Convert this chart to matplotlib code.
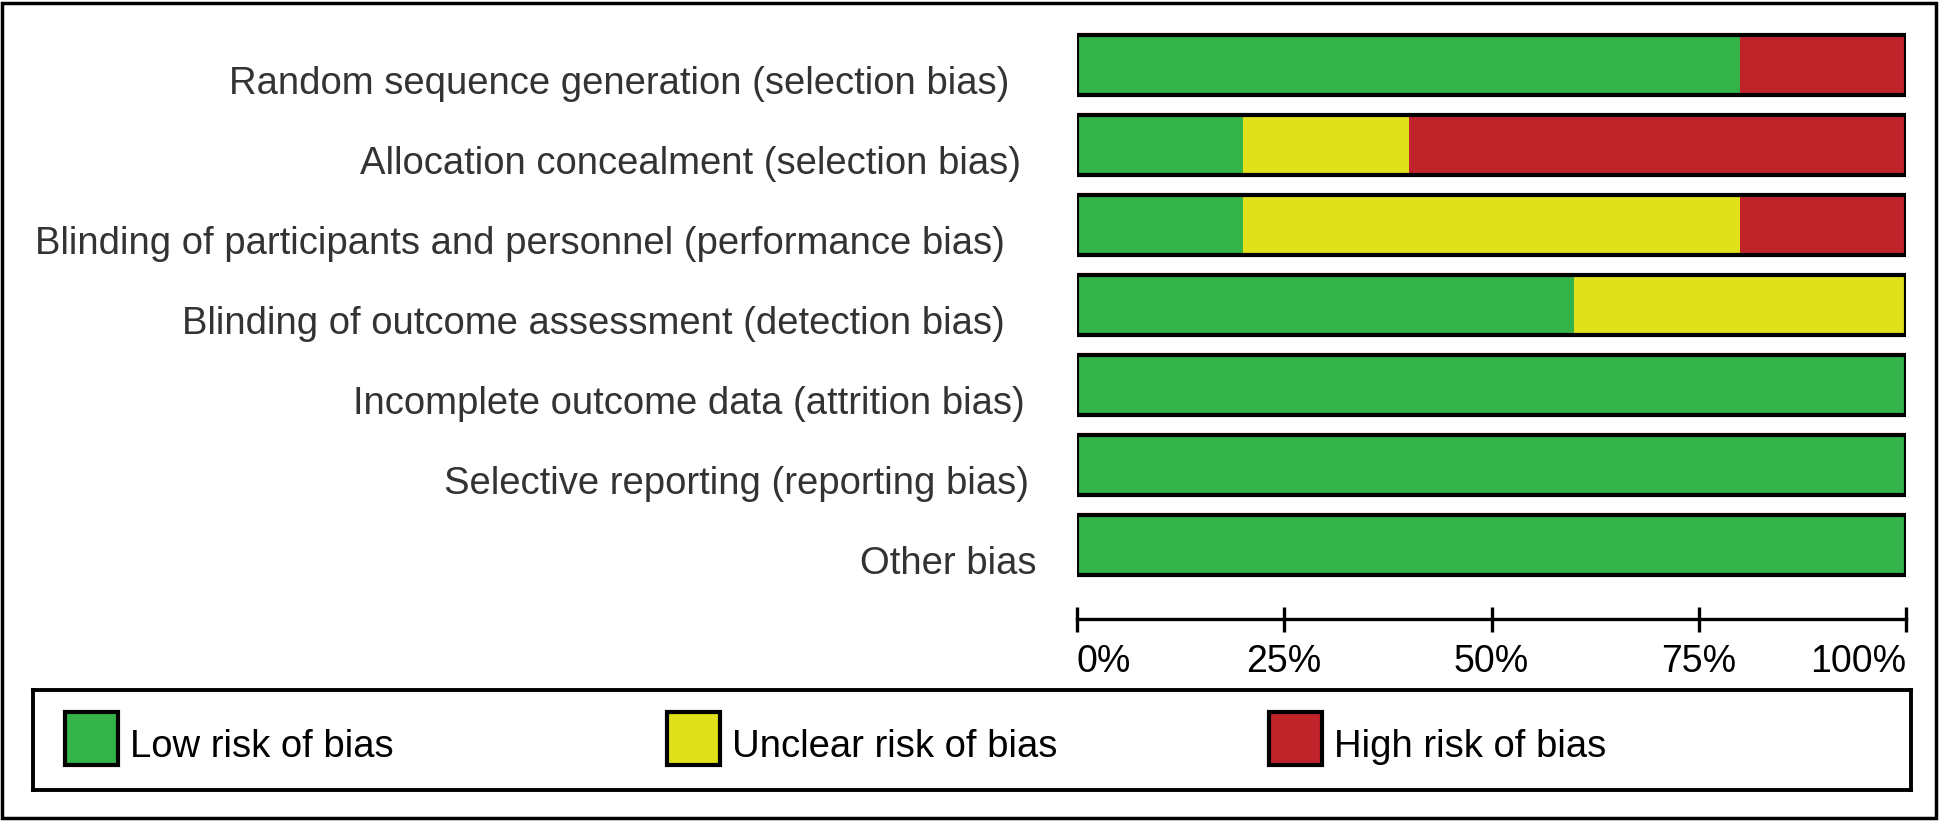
import matplotlib
matplotlib.use("Agg")
import matplotlib.pyplot as plt
from matplotlib.patches import Rectangle
from matplotlib.transforms import ScaledTranslation

plt.rcParams["font.family"] = ["Liberation Sans", "DejaVu Sans"]

# Risk of bias summary (% of studies)
DOMAINS = [
    "Random sequence generation (selection bias)",
    "Allocation concealment (selection bias)",
    "Blinding of participants and personnel (performance bias)",
    "Blinding of outcome assessment (detection bias)",
    "Incomplete outcome data (attrition bias)",
    "Selective reporting (reporting bias)",
    "Other bias",
]
LOW = [80, 20, 20, 60, 100, 100, 100]
UNCLEAR = [0, 20, 60, 40, 0, 0, 0]
HIGH = [20, 60, 20, 0, 0, 0, 0]
TICKS = [0, 25, 50, 75, 100]
TICK_LABELS = ["0%", "25%", "50%", "75%", "100%"]
LEGEND_LABELS = ["Low risk of bias", "Unclear risk of bias", "High risk of bias"]

GREEN = "#33b34a"
YELLOW = "#e0e01b"
RED = "#c1232b"
COLORS = [GREEN, YELLOW, RED]

# gap (px) between each label's right edge and the bars, as in the original
LABEL_GAP_PX = [68, 56, 72, 72, 52, 48, 40]

W, H = 1941, 821
fig = plt.figure(figsize=(W / 100, H / 100), dpi=100)

# main bar axes (pixel layout from the reference)
ax = fig.add_axes([1077 / W, 1 - 585 / H, 829 / W, 560 / H])
y = list(range(len(DOMAINS)))
bar_h = 0.75
ax.barh(y, LOW, height=bar_h, color=GREEN, linewidth=0)
ax.barh(y, UNCLEAR, left=LOW, height=bar_h, color=YELLOW, linewidth=0)
left_high = [a + b for a, b in zip(LOW, UNCLEAR)]
ax.barh(y, HIGH, left=left_high, height=bar_h, color=RED, linewidth=0)
totals = [a + b + c for a, b, c in zip(LOW, UNCLEAR, HIGH)]
ax.barh(y, totals, height=bar_h, fill=False, edgecolor="black", linewidth=3)

ax.set_xlim(0, 100)
ax.set_ylim(len(DOMAINS) - 0.5, -0.5)

for side in ["left", "right", "top"]:
    ax.spines[side].set_visible(False)
ax.spines["bottom"].set_position(("outward", 24.5))
ax.spines["bottom"].set_bounds(0, 100)
ax.spines["bottom"].set_linewidth(2.4)
ax.set_yticks([])
ax.set_xticks(TICKS)
ax.set_xticklabels(TICK_LABELS, fontsize=27, color="black")
ax.tick_params(axis="x", direction="inout", length=18, width=2.4, pad=9)
xt = ax.get_xticklabels()
xt[0].set_ha("left")
xt[-1].set_ha("right")

for i, name in enumerate(DOMAINS):
    shift = ScaledTranslation(-LABEL_GAP_PX[i] / 100, -0.29, fig.dpi_scale_trans)
    ax.text(0, i, name, transform=ax.transData + shift, ha="right",
            va="baseline", fontsize=27.5, color="#333333")

# legend box
lax = fig.add_axes([33 / W, 1 - 790 / H, 1878 / W, 100 / H])
lax.set_xticks([])
lax.set_yticks([])
for s in lax.spines.values():
    s.set_linewidth(2.8)
col_pitch = 0.3205
for i, (lab, col) in enumerate(zip(LEGEND_LABELS, COLORS)):
    x0 = 0.017 + i * col_pitch
    lax.add_patch(Rectangle((x0, 0.25), 0.0282, 0.53, transform=lax.transAxes,
                            facecolor=col, edgecolor="black", linewidth=3))
    lax.text(x0 + 0.0346, 0.33, lab, transform=lax.transAxes, ha="left",
             va="baseline", fontsize=27.5, color="black")

# outer frame
fig.patches.append(Rectangle((2 / W, 1 - 818 / H), 1934 / W, 815 / H,
                             transform=fig.transFigure, fill=False,
                             edgecolor="black", linewidth=2.5))

fig.savefig("out.png", dpi=100)
